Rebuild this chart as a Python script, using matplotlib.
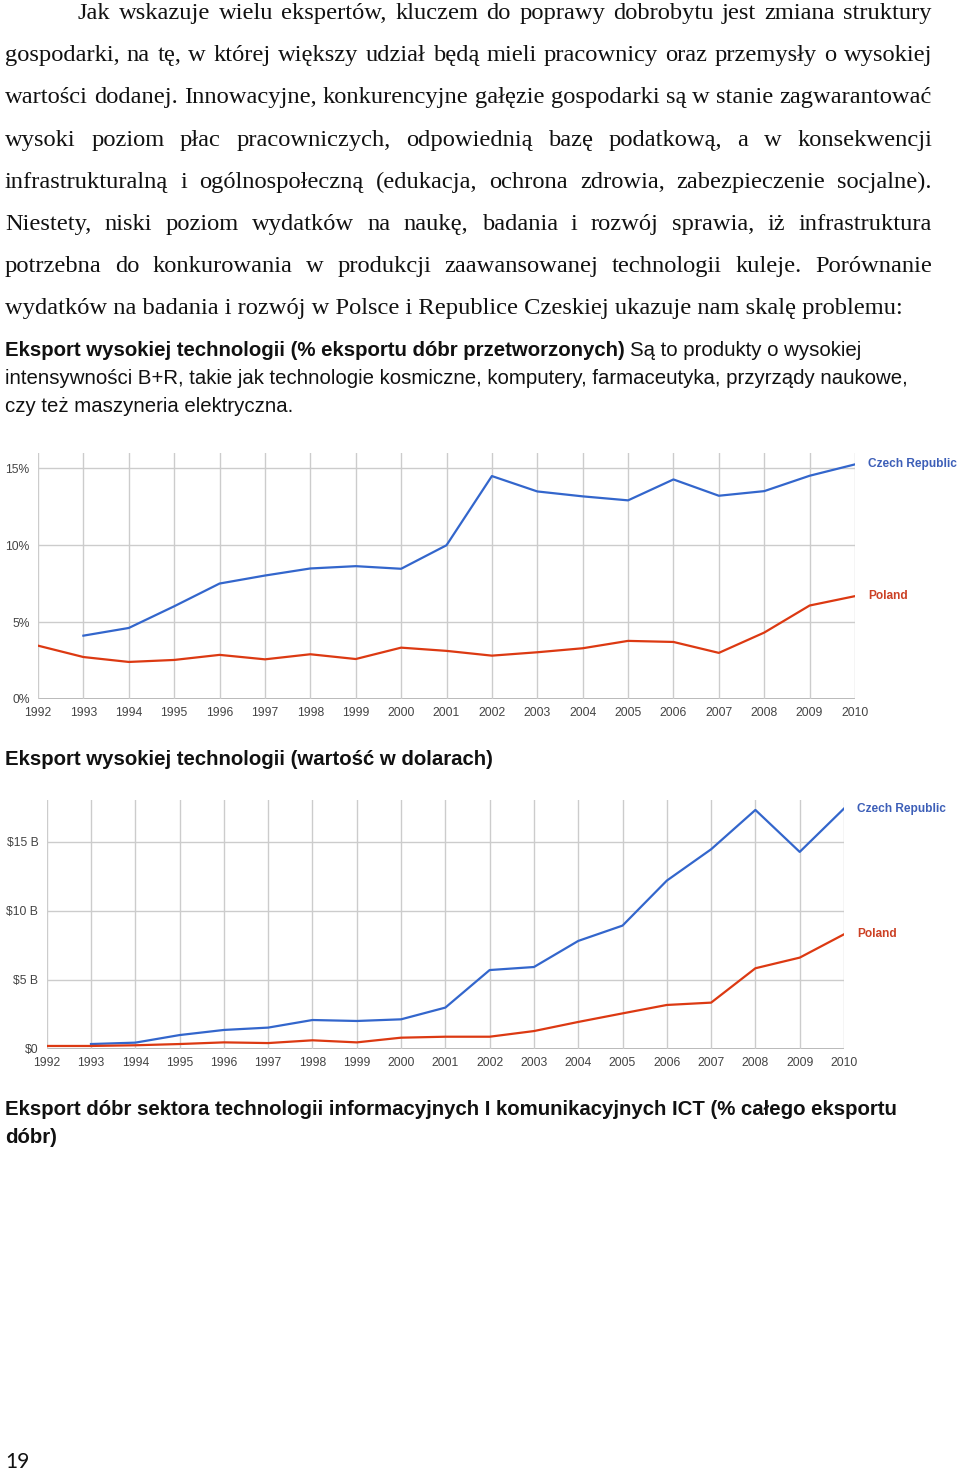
import matplotlib
matplotlib.use('Agg')
from matplotlib import pyplot as plt

W, H = 960, 1470

# --- data ---
years = list(range(1992, 2011))

# Eksport wysokiej technologii (% eksportu dóbr przetworzonych)
pct_czech = [4.12, 4.62, 6.03, 7.51, 8.03, 8.49, 8.64, 8.47, 10.0,
             14.5, 13.5, 13.18, 12.92, 14.28, 13.22, 13.52, 14.52, 15.26]  # from 1993
pct_poland = [3.47, 2.73, 2.41, 2.54, 2.87, 2.58, 2.91, 2.60, 3.34, 3.13,
              2.82, 3.04, 3.30, 3.78, 3.71, 3.00, 4.32, 6.08, 6.69]

# Eksport wysokiej technologii (wartość w dolarach), mld USD
usd_czech = [0.36, 0.46, 1.01, 1.38, 1.55, 2.10, 2.03, 2.15, 3.0,
             5.72, 5.94, 7.83, 8.94, 12.2, 14.47, 17.32, 14.28, 17.42]  # from 1993
usd_poland = [0.22, 0.22, 0.27, 0.36, 0.48, 0.43, 0.63, 0.48, 0.82, 0.89,
              0.89, 1.30, 1.96, 2.58, 3.19, 3.36, 5.85, 6.62, 8.31]

pct_ticks = [0, 5, 10, 15]
usd_ticks = [0, 5, 10, 15]

paragraph = [
    "Jak wskazuje wielu ekspertów, kluczem do poprawy dobrobytu jest zmiana struktury",
    "gospodarki, na tę, w której większy udział będą mieli pracownicy oraz przemysły o wysokiej",
    "wartości dodanej. Innowacyjne, konkurencyjne gałęzie gospodarki są w stanie zagwarantować",
    "wysoki poziom płac pracowniczych, odpowiednią bazę podatkową, a w konsekwencji",
    "infrastrukturalną i ogólnospołeczną (edukacja, ochrona zdrowia, zabezpieczenie socjalne).",
    "Niestety, niski poziom wydatków na naukę, badania i rozwój sprawia, iż infrastruktura",
    "potrzebna do konkurowania w produkcji zaawansowanej technologii kuleje. Porównanie",
    "wydatków na badania i rozwój w Polsce i Republice Czeskiej ukazuje nam skalę problemu:",
]

BLUE = '#3366cc'
RED = '#dc3912'
GRID = '#cccccc'
TICK = '#444444'
SERIF = 'Liberation Serif'
SANS = 'Liberation Sans'

fig = plt.figure(figsize=(W / 100, H / 100), dpi=100)
renderer = fig.canvas.get_renderer()


def fx(x):
    return x / W


def fy(y):
    return 1 - y / H


def text_width(s, **kw):
    t = fig.text(0, 0, s, **kw)
    w = t.get_window_extent(renderer=renderer).width
    t.remove()
    return w


def fit_size(s, width, **kw):
    return 16 * width / text_width(s, fontsize=16, **kw)


def put(x, y, s, **kw):
    return fig.text(fx(x), fy(y), s, va='baseline', ha='left', **kw)


def justified(line, x0, x1, y, **kw):
    words = line.split()
    widths = [text_width(w, **kw) for w in words]
    gap = (x1 - x0 - sum(widths)) / (len(words) - 1)
    x = x0
    for w, wd in zip(words, widths):
        put(x, y, w, **kw)
        x += wd + gap


# --- paragraph (justified, serif) ---
serif_size = fit_size(paragraph[-1], 897, family=SERIF)
for i, line in enumerate(paragraph):
    y = 19 + i * 42.2
    kw = dict(family=SERIF, fontsize=serif_size, color='#111111')
    if i == 0:
        justified(line, 78, 932, y, **kw)
    elif i < len(paragraph) - 1:
        justified(line, 5, 932, y, **kw)
    else:
        put(5, y, line, **kw)

# --- sans headings ---
sans_size = fit_size("Eksport wysokiej technologii (wartość w dolarach)", 489,
                     family=SANS, weight='bold')
sans = dict(family=SANS, fontsize=sans_size, color='#111111')

bold1 = "Eksport wysokiej technologii (% eksportu dóbr przetworzonych)"
put(5, 356, bold1, weight='bold', **sans)
w1 = text_width(bold1 + " ", weight='bold', **sans)
put(5 + w1, 356, "Są to produkty o wysokiej", **sans)
put(5, 384, "intensywności B+R, takie jak technologie kosmiczne, komputery, "
            "farmaceutyka, przyrządy naukowe,", **sans)
put(5, 412, "czy też maszyneria elektryczna.", **sans)

put(5, 765, "Eksport wysokiej technologii (wartość w dolarach)", weight='bold', **sans)
put(5, 1115, "Eksport dóbr sektora technologii informacyjnych I komunikacyjnych "
             "ICT (% całego eksportu", weight='bold', **sans)
put(5, 1143, "dóbr)", weight='bold', **sans)

put(5, 1468, "19", family='Lato', fontsize=15, color='#111111')


# --- charts ---
def make_chart(rect, top, ticks, fmt, cz, pl):
    ax = fig.add_axes(rect)
    ax.plot(years[1:], cz, color=BLUE, lw=1.6, zorder=3)
    ax.plot(years, pl, color=RED, lw=1.6, zorder=3)
    ax.set_xlim(1992, 2010)
    ax.set_ylim(0, top)
    ax.set_xticks(years)
    ax.set_yticks(ticks)
    ax.set_yticklabels([fmt(t) for t in ticks])
    ax.grid(True, color=GRID, lw=1, zorder=0)
    ax.axhline(0, color='#aaaaaa', lw=1.2, zorder=1)
    for s in ax.spines.values():
        s.set_visible(False)
    ax.tick_params(length=0, labelsize=8.7, labelcolor=TICK)
    ax.tick_params(axis='x', pad=6)
    ax.tick_params(axis='y', pad=6)
    for lab in ax.get_xticklabels() + ax.get_yticklabels():
        lab.set_family(SANS)
    ax.annotate('Czech Republic', (years[-1], cz[-1]), xytext=(9.5, 0),
                textcoords='offset points', va='center', ha='left',
                color='#3d5fb8', fontsize=8.6, weight='bold', family=SANS,
                annotation_clip=False)
    ax.annotate('Poland', (years[-1], pl[-1]), xytext=(9.5, 0),
                textcoords='offset points', va='center', ha='left',
                color='#cc4125', fontsize=8.6, weight='bold', family=SANS,
                annotation_clip=False)
    return ax


make_chart([fx(38), fy(699), (855 - 38) / W, (699 - 453) / H], 16, pct_ticks,
           lambda t: f"{t}%", pct_czech, pct_poland)
make_chart([fx(46.7), fy(1049), (844 - 46.7) / W, (1049 - 800) / H], 18.04, usd_ticks,
           lambda t: "$0" if t == 0 else f"${t} B", usd_czech, usd_poland)

fig.savefig('out.png', dpi=100)
